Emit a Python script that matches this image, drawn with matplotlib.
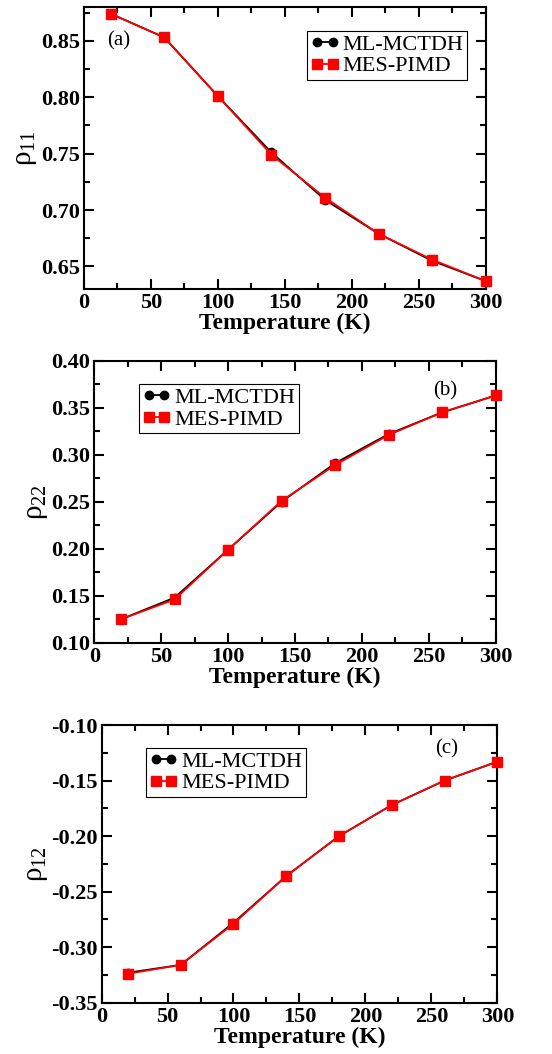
"""Populations and coherence vs temperature, three stacked panels"""

import matplotlib
matplotlib.use("Agg")
import matplotlib.pyplot as plt
from matplotlib.ticker import MultipleLocator, FormatStrFormatter

plt.rcParams['font.family'] = ['Liberation Serif', 'DejaVu Serif']
plt.rcParams['mathtext.fontset'] = 'custom'
plt.rcParams['mathtext.rm'] = 'Liberation Serif'
plt.rcParams['mathtext.it'] = 'Liberation Serif'
plt.rcParams['mathtext.bf'] = 'Liberation Serif:bold'
plt.rcParams['axes.unicode_minus'] = False

temps = [20, 60, 100, 140, 180, 220, 260, 300]

rho11_ml = [0.874, 0.853, 0.801, 0.751, 0.709, 0.679, 0.655, 0.637]
rho11_mes = [0.874, 0.853, 0.801, 0.749, 0.711, 0.679, 0.656, 0.637]
rho22_ml = [0.125, 0.148, 0.199, 0.250, 0.291, 0.322, 0.345, 0.363]
rho22_mes = [0.125, 0.146, 0.199, 0.251, 0.289, 0.321, 0.345, 0.363]
rho12_ml = [-0.323, -0.316, -0.278, -0.236, -0.200, -0.172, -0.150, -0.133]
rho12_mes = [-0.324, -0.316, -0.279, -0.236, -0.200, -0.172, -0.150, -0.133]

labels = ['ML-MCTDH', 'MES-PIMD']

fig = plt.figure(figsize=(5.52, 10.54), dpi=100)

panels = [
    # rect, ml, mes, ylim, ylabel, tag, tag pos, legend loc, legend anchor
    ([0.152, 0.7258, 0.728, 0.2676], rho11_ml, rho11_mes, (0.63, 0.88),
     r'$\rho_{11}$', '(a)', (17, 0.85), 'upper right', (0.953, 0.915)),
    ([0.171, 0.3902, 0.727, 0.2676], rho22_ml, rho22_mes, (0.10, 0.40),
     r'$\rho_{22}$', '(b)', (253, 0.368), 'upper left', (0.111, 0.917)),
    ([0.184, 0.0487, 0.717, 0.2634], rho12_ml, rho12_mes, (-0.35, -0.10),
     r'$\rho_{12}$', '(c)', (253, -0.1216), 'upper left', (0.112, 0.918)),
]

for rect, ml, mes, ylim, ylab, tag, tagpos, loc, anchor in panels:
    ax = fig.add_axes(rect)
    ax.plot(temps, ml, '-o', color='black', lw=1.3, ms=6, label=labels[0],
            clip_on=False, zorder=3)
    ax.plot(temps, mes, '-s', color='red', lw=1.3, ms=6.5, label=labels[1],
            clip_on=False, zorder=4)
    ax.set_xlim(0, 300)
    ax.set_ylim(*ylim)
    ax.xaxis.set_major_locator(MultipleLocator(50))
    ax.xaxis.set_minor_locator(MultipleLocator(25))
    ax.yaxis.set_major_locator(MultipleLocator(0.05))
    ax.yaxis.set_minor_locator(MultipleLocator(0.025))
    ax.yaxis.set_major_formatter(FormatStrFormatter('%.2f'))
    ax.tick_params(which='both', direction='in', top=True, right=True,
                   width=1.5, labelsize=16)
    ax.tick_params(which='major', length=7, pad=3)
    ax.tick_params(which='minor', length=4)
    for lab in ax.get_xticklabels() + ax.get_yticklabels():
        lab.set_fontweight('bold')
    for sp in ax.spines.values():
        sp.set_linewidth(1.5)
    ax.set_xlabel('Temperature (K)', fontsize=17, fontweight='bold', labelpad=0)
    ax.set_ylabel(ylab, fontsize=21, labelpad=1)
    ax.text(tagpos[0], tagpos[1], tag, fontsize=15, va='center', ha='left')
    leg = ax.legend(loc=loc, bbox_to_anchor=anchor, fontsize=16, numpoints=2,
                    handlelength=1.3, handletextpad=0.15, borderpad=0.15,
                    labelspacing=0.05, borderaxespad=0, fancybox=False,
                    framealpha=1)
    leg.get_frame().set_edgecolor('black')
    leg.get_frame().set_linewidth(0.8)

fig.savefig('out.png', dpi=100)
